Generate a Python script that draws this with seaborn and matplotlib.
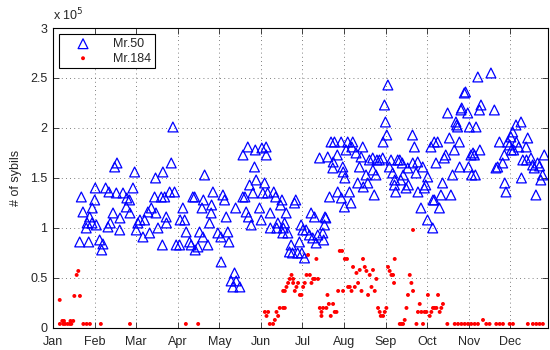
import numpy as np
import pandas as pd
import seaborn as sns
import matplotlib.pyplot as plt

sns.set_style("ticks")
plt.rcParams['font.family'] = ['Liberation Sans', 'DejaVu Sans']
plt.rcParams['font.size'] = 9

month_labels = ['Jan', 'Feb', 'Mar', 'Apr', 'May', 'Jun',
                'Jul', 'Aug', 'Sep', 'Oct', 'Nov', 'Dec']
ytick_labels = ['0', '0.5', '1', '1.5', '2', '2.5', '3']

# (day of year, sybils in units of 1e5)
mr50 = [
    (19.5, 0.86), (20.7, 1.31), (21.9, 1.16), (24.3, 1.00), (25.0, 1.05), (26.1, 0.86),
    (26.8, 1.11), (28.5, 1.05), (28.7, 1.20), (30.5, 1.28), (30.9, 1.40), (31.7, 1.03),
    (34.1, 0.88), (35.6, 0.78), (36.5, 0.84), (38.5, 1.40), (40.2, 1.01), (40.9, 1.36),
    (41.9, 1.05), (43.9, 1.15), (45.1, 1.61), (46.3, 1.35), (46.8, 1.65), (48.8, 0.98),
    (49.0, 1.10), (51.2, 1.35), (53.6, 1.21), (54.0, 1.30), (56.0, 1.28), (56.3, 1.15),
    (58.5, 1.40), (59.7, 1.56), (60.9, 0.98), (62.1, 1.05), (63.6, 1.08), (65.8, 0.91),
    (67.0, 1.08), (69.4, 1.16), (70.7, 0.95), (71.9, 1.20), (74.3, 1.31), (75.0, 1.50),
    (75.3, 1.15), (76.8, 1.00), (79.2, 1.31), (80.0, 0.83), (80.4, 1.56), (81.7, 1.31),
    (82.8, 1.11), (83.0, 1.05), (85.3, 1.36), (86.5, 1.65), (87.7, 2.01), (88.9, 1.36),
    (90.1, 0.83), (92.6, 0.83), (93.0, 1.08), (95.0, 1.20), (96.3, 1.08), (97.4, 0.96),
    (99.9, 0.86), (101.1, 0.83), (102.3, 1.31), (103.6, 1.31), (104.0, 0.78), (106.0, 0.81),
    (107.2, 0.96), (109.0, 1.20), (109.7, 0.91), (110.0, 1.28), (110.9, 1.53), (113.3, 0.83),
    (114.5, 1.05), (115.7, 1.15), (116.0, 1.23), (117.0, 1.36), (120.6, 0.95), (122.8, 0.91),
    (123.0, 0.66), (124.3, 1.33), (125.5, 1.28), (126.7, 1.11), (127.9, 0.96), (128.7, 0.86),
    (130.3, 0.47), (131.6, 0.41), (132.8, 0.55), (133.6, 1.20), (134.0, 0.47), (136.7, 0.41),
    (138.9, 1.31), (139.0, 1.73), (140.4, 1.31), (141.3, 1.16), (142.5, 1.81), (143.0, 1.11),
    (143.8, 1.43), (145.0, 1.03), (146.2, 1.35), (147.4, 1.61), (148.0, 1.78), (148.6, 1.48),
    (151.1, 1.20), (152.3, 1.08), (152.8, 1.80), (153.5, 1.35), (154.8, 1.45), (155.9, 1.81),
    (156.0, 1.73), (157.0, 1.35), (158.9, 1.15), (159.0, 1.00), (161.5, 1.36), (162.9, 1.31),
    (163.7, 1.00), (164.5, 1.05), (166.5, 1.23), (167.5, 1.28), (168.1, 0.95), (168.5, 1.00),
    (169.4, 1.05), (170.6, 1.15), (171.8, 0.95), (173.0, 0.76), (174.2, 0.83), (175.2, 0.75),
    (176.7, 1.25), (177.6, 1.28), (179.0, 0.75), (180.3, 0.86), (181.5, 1.03), (182.0, 0.75),
    (182.8, 0.98), (184.0, 0.70), (185.2, 0.98), (187.6, 0.93), (188.8, 1.15), (190.0, 0.90),
    (191.3, 1.11), (192.5, 0.85), (193.7, 0.93), (195.0, 1.70), (197.4, 0.95), (198.0, 0.88),
    (198.6, 1.03), (199.0, 1.11), (199.6, 1.10), (201.0, 1.71), (202.3, 1.31), (203.4, 1.86),
    (204.7, 1.60), (205.0, 1.66), (205.9, 1.86), (208.0, 1.73), (208.3, 1.36), (210.8, 1.86),
    (211.0, 1.30), (212.0, 1.61), (212.3, 1.56), (213.2, 1.21), (213.5, 1.50), (214.4, 1.78),
    (215.6, 1.86), (216.9, 1.36), (218.0, 1.25), (218.6, 1.81), (219.3, 1.86), (221.7, 1.75),
    (222.9, 1.45), (224.2, 1.61), (225.4, 1.71), (226.6, 1.81), (227.0, 1.41), (229.0, 1.53),
    (230.3, 1.45), (231.5, 1.68), (233.9, 1.70), (234.0, 1.58), (235.0, 1.33), (236.3, 1.53),
    (237.0, 1.68), (238.8, 1.68), (241.2, 1.70), (241.5, 1.86), (242.5, 2.23), (243.2, 2.06),
    (244.2, 1.93), (245.0, 2.43), (246.1, 1.61), (247.3, 1.68), (248.5, 1.55), (249.8, 1.43),
    (250.0, 1.48), (250.7, 1.36), (252.2, 1.68), (253.7, 1.68), (254.4, 1.48), (255.5, 1.65),
    (256.2, 1.53), (258.3, 1.40), (259.5, 1.60), (260.0, 1.43), (263.0, 1.93), (263.2, 1.65),
    (264.4, 1.81), (265.6, 1.55), (266.8, 1.66), (267.0, 1.36), (269.2, 1.20), (270.5, 1.61),
    (271.7, 1.40), (272.7, 1.43), (274.0, 1.08), (274.1, 1.51), (276.5, 1.81), (277.8, 1.00),
    (278.0, 1.28), (278.9, 1.86), (279.0, 1.28), (280.2, 1.65), (281.4, 1.86), (282.7, 1.20),
    (283.8, 1.33), (285.0, 1.45), (286.3, 1.70), (287.3, 1.73), (288.7, 2.15), (290.0, 1.90),
    (291.1, 1.33), (292.3, 1.53), (293.6, 1.78), (294.8, 2.06), (295.3, 2.03), (296.0, 2.01),
    (297.3, 1.86), (297.5, 1.61), (298.5, 2.18), (299.0, 2.20), (300.9, 2.35), (301.8, 2.36),
    (303.4, 2.15), (304.0, 1.61), (304.6, 2.01), (305.8, 1.73), (306.3, 1.53), (307.3, 1.75),
    (308.3, 1.73), (309.0, 1.53), (309.5, 2.01), (310.8, 2.51), (312.0, 2.18), (312.3, 1.78),
    (313.1, 2.23), (320.4, 2.55), (322.9, 2.18), (324.1, 1.60), (325.3, 1.61), (326.6, 1.86),
    (329.0, 1.65), (330.2, 1.73), (330.5, 1.45), (331.4, 1.36), (332.6, 1.86), (334.0, 1.83),
    (335.0, 1.91), (335.3, 1.78), (336.3, 1.96), (337.0, 1.78), (338.7, 2.03), (339.0, 1.86),
    (340.7, 1.81), (342.4, 2.06), (342.7, 1.50), (343.7, 1.68), (346.1, 1.81), (346.4, 1.68),
    (347.3, 1.90), (349.7, 1.70), (350.9, 1.63), (352.1, 1.60), (353.3, 1.33), (354.5, 1.65),
    (356.0, 1.62), (356.9, 1.48), (358.2, 1.53), (359.4, 1.73),
]

mr184 = [
    (4.9, 0.28), (5.0, 0.04), (6.8, 0.07), (7.5, 0.04), (8.0, 0.07), (8.8, 0.04),
    (10.7, 0.04), (12.4, 0.04), (12.8, 0.07), (13.4, 0.04), (14.8, 0.07), (15.6, 0.32),
    (17.3, 0.53), (18.5, 0.57), (19.7, 0.32), (22.2, 0.04), (24.6, 0.04), (27.0, 0.04),
    (35.0, 0.04), (56.3, 0.04), (97.2, 0.04), (106.2, 0.04),
    (155.0, 0.16), (156.2, 0.12), (157.4, 0.16), (158.6, 0.04), (161.0, 0.04), (162.3, 0.08),
    (163.5, 0.16), (164.7, 0.12), (165.9, 0.20), (168.4, 0.20), (168.4, 0.37), (169.6, 0.20),
    (169.6, 0.37), (170.8, 0.41), (172.0, 0.45), (173.2, 0.49), (174.5, 0.53), (175.7, 0.49),
    (175.7, 0.45), (176.9, 0.37), (178.1, 0.41), (179.3, 0.45), (180.6, 0.33), (181.8, 0.33),
    (183.0, 0.41), (184.2, 0.45), (185.5, 0.53), (186.6, 0.73), (187.9, 0.53), (189.1, 0.45),
    (190.3, 0.49), (191.5, 0.49), (192.7, 0.69), (193.9, 0.49), (195.2, 0.20), (196.4, 0.16),
    (196.4, 0.12), (197.6, 0.20), (200.0, 0.20), (200.8, 0.33), (201.8, 0.24), (203.2, 0.12),
    (204.9, 0.24), (206.1, 0.16), (207.4, 0.16), (208.6, 0.37), (209.8, 0.77), (211.5, 0.77),
    (212.2, 0.37), (213.5, 0.69), (215.1, 0.69), (215.9, 0.41), (217.1, 0.41), (218.4, 0.37),
    (219.5, 0.61), (220.8, 0.41), (222.0, 0.55), (223.2, 0.45), (224.4, 0.58), (225.7, 0.37),
    (226.8, 0.69), (228.1, 0.61), (229.3, 0.57), (230.5, 0.33), (231.7, 0.53), (233.0, 0.41),
    (234.1, 0.58), (235.4, 0.37), (236.6, 0.49), (237.8, 0.20), (239.0, 0.16), (239.8, 0.12),
    (241.5, 0.12), (242.7, 0.16), (243.9, 0.20), (245.1, 0.61), (246.3, 0.57), (247.6, 0.53),
    (248.8, 0.53), (249.5, 0.45), (250.0, 0.69), (253.7, 0.04), (254.9, 0.04), (256.1, 0.04),
    (257.3, 0.08), (258.6, 0.20), (259.7, 0.33), (261.0, 0.53), (262.2, 0.45), (263.4, 0.37),
    (263.4, 0.98), (265.9, 0.04), (267.0, 0.16), (268.3, 0.24), (269.5, 0.16), (270.7, 0.04),
    (271.9, 0.16), (273.2, 0.16), (274.3, 0.33), (275.6, 0.12), (276.8, 0.16), (278.0, 0.20),
    (279.2, 0.20), (280.5, 0.20), (281.7, 0.33), (282.9, 0.16), (284.1, 0.20), (285.3, 0.24),
    (288.5, 0.04), (293.9, 0.04), (296.3, 0.04), (298.8, 0.04), (301.2, 0.04), (303.6, 0.04),
    (306.0, 0.04), (308.5, 0.04), (310.9, 0.04), (314.6, 0.08), (317.0, 0.04), (319.4, 0.04),
    (324.3, 0.04), (326.8, 0.04), (329.2, 0.04), (334.1, 0.04), (336.5, 0.04), (347.4, 0.04),
    (351.1, 0.04), (353.6, 0.04), (356.0, 0.04), (358.4, 0.04),
]

df50 = pd.DataFrame(mr50, columns=['day', 'sybils'])
df184 = pd.DataFrame(mr184, columns=['day', 'sybils'])

fig = plt.figure(figsize=(5.5, 3.5), dpi=100)
ax = fig.add_axes([0.0964, 0.063, 0.8996, 0.857])

sns.scatterplot(data=df50, x='day', y='sybils', marker='^', s=50,
                facecolor='none', edgecolor='#0000ff', linewidth=0.9,
                label='Mr.50', ax=ax)
sns.scatterplot(data=df184, x='day', y='sybils', marker='o', s=8,
                color='#ff0000', edgecolor='none', linewidth=0,
                label='Mr.184', ax=ax)

ax.set_xlim(0, 362)
ax.set_ylim(0, 3)
ax.set_xticks(np.arange(12) * 365 / 12)
ax.set_xticklabels(month_labels)
ax.set_yticks(np.arange(7) * 0.5)
ax.set_yticklabels(ytick_labels)
ax.set_xlabel('')
ax.set_ylabel('# of sybils', labelpad=6)

ax.grid(True, linestyle=(0, (1, 4)), color='#555555', linewidth=0.6)
ax.tick_params(direction='in', top=True, right=True, length=4, width=0.6)
ax.tick_params(axis='x', pad=6)
ax.tick_params(axis='y', pad=4)
for s in ax.spines.values():
    s.set_visible(True)
    s.set_linewidth(0.8)
    s.set_color('black')

ax.text(0.0, 1.015, r'x 10$^5$', transform=ax.transAxes, ha='left', va='bottom', fontsize=9)

leg = ax.legend(loc='upper left', frameon=True, fancybox=False, framealpha=1,
                edgecolor='black', handlelength=3.2, handletextpad=0.8,
                borderpad=0.3, labelspacing=0.2, borderaxespad=0.5, markerscale=1.0)
leg.get_frame().set_linewidth(0.8)

fig.savefig('out.png', dpi=100)
